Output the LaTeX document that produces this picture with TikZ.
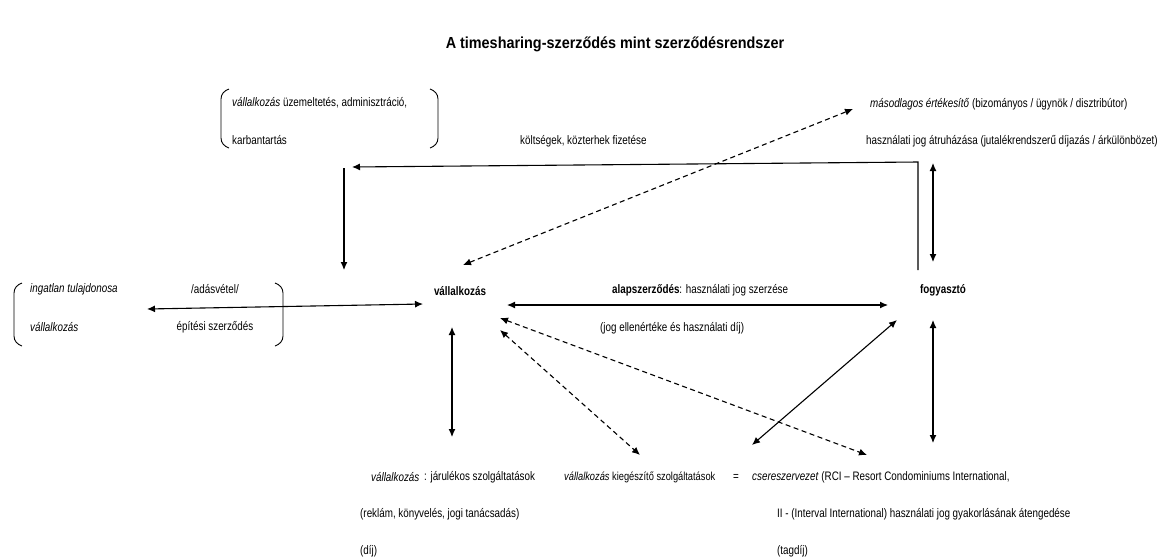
\documentclass[tikz,border=0pt]{standalone}
\usepackage{fontspec}
\setmainfont{Liberation Sans}[FakeStretch=0.8]
\newfontfamily\titlefont{Liberation Sans}[FakeStretch=0.9]
\usetikzlibrary{arrows.meta}
\begin{document}
\begin{tikzpicture}[x=1pt,y=-1pt,
  lbl/.style={inner sep=0pt, anchor=west, font=\fontsize{12.3}{14}\selectfont},
  boldlbl/.style={inner sep=0pt, anchor=center, font=\bfseries\fontsize{12.3}{14}\selectfont},
  con/.style={line width=1.1pt, -{Latex[length=8pt,width=7pt]}},
  dcon/.style={line width=1.1pt, {Latex[length=8pt,width=7pt]}-{Latex[length=8pt,width=7pt]}, dash pattern=on 5pt off 3.5pt},
  dbl/.style={line width=1.1pt, {Latex[length=8pt,width=7pt]}-{Latex[length=8pt,width=7pt]}},
  brk/.style={line width=0.9pt}]
\useasboundingbox (0,0) rectangle (1160,558);

% title
\node[inner sep=0pt, font=\titlefont\bfseries\fontsize{16}{18}\selectfont] (title) at (615,44) {A timesharing-szerződés mint szerződésrendszer};

% top left
\node[lbl] (uz1) at (232,103) {\textit{vállalkozás} üzemeltetés, adminisztráció,};
\node[lbl] (uz2) at (232,140) {karbantartás};
\draw[brk] (229,89) to[out=200,in=90] (221,99) -- (221,138) to[out=-90,in=160] (229,148);
\draw[brk] (430,89) to[out=-20,in=90] (438,99) -- (438,138) to[out=-90,in=20] (430,148);

\node[lbl] (kolt) at (520,141) {költségek, közterhek fizetése};

% top right
\node[lbl] (mas1) at (870,104) {\textit{másodlagos értékesítő} (bizományos / ügynök / disztribútor)};
\node[lbl] (mas2) at (866,141) {használati jog átruházása (jutalékrendszerű díjazás / árkülönbözet)};

% left
\node[lbl] (ing1) at (30,289) {\textit{ingatlan tulajdonosa}};
\node[lbl] (ing2) at (30,327) {\textit{vállalkozás}};
\node[lbl, anchor=center] (adas) at (215,289) {/adásvétel/};
\node[lbl, anchor=center] (epit) at (215,327) {építési szerződés};
\draw[brk] (22,283) to[out=200,in=90] (14,293) -- (14,336) to[out=-90,in=160] (22,346);
\draw[brk] (275,283) to[out=-20,in=90] (283,293) -- (283,336) to[out=-90,in=20] (275,346);

% centre
\node[boldlbl] (vall) at (460,291) {vállalkozás};
\node[lbl] (alap) at (612,290) {\textbf{alapszerződés}: használati jog szerzése};
\node[lbl] (ell) at (600,328) {(jog ellenértéke és használati díj)};
\node[boldlbl] (fogy) at (943,290) {fogyasztó};

% bottom
\node[lbl] (jv) at (371,477) {\textit{vállalkozás}};
\node[lbl] (jar) at (424,477) {: járulékos szolgáltatások};
\node[lbl] (rek) at (360,514) {(reklám, könyvelés, jogi tanácsadás)};
\node[lbl] (dij) at (360,551) {(díj)};
\node[lbl, font=\fontsize{11.6}{14}\selectfont] (kieg) at (564,477) {\textit{vállalkozás} kiegészítő szolgáltatások};
\node[lbl, anchor=center] (eq) at (736,477) {=};
\node[lbl] (cser) at (752,477) {\textit{csereszervezet} (RCI – Resort Condominiums International,};
\node[lbl] (ii) at (777,514) {II - (Interval International) használati jog gyakorlásának átengedése};
\node[lbl] (tag) at (777,551) {(tagdíj)};

% connector end points
\coordinate (fogyUp) at (918,270);
\coordinate (corner) at (918,162);
\coordinate (koltEnd) at (352,167);
\coordinate (vTopS) at (344,168);
\coordinate (vTopE) at (344,270);
\coordinate (dA) at (463,265);
\coordinate (dB) at (853,109);
\coordinate (frA) at (933,163);
\coordinate (frB) at (933,262);
\coordinate (lA) at (147,309);
\coordinate (lB) at (423,304);
\coordinate (aA) at (507,305);
\coordinate (aB) at (888,305);
\coordinate (vbA) at (452,327);
\coordinate (vbB) at (452,437);
\coordinate (d1A) at (500,318);
\coordinate (d1B) at (867,455);
\coordinate (d2A) at (500,330);
\coordinate (d2B) at (640,455);
\coordinate (sA) at (897,320);
\coordinate (sB) at (752,445);
\coordinate (fbA) at (933,320);
\coordinate (fbB) at (933,443);

\draw[con] (fogyUp) -- (corner) -- (koltEnd);
\draw[con] (vTopS) -- (vTopE);
\draw[dcon] (dA) -- (dB);
\draw[dbl] (frA) -- (frB);
\draw[dbl] (lA) -- (lB);
\draw[dbl] (aA) -- (aB);
\draw[dbl] (vbA) -- (vbB);
\draw[dcon] (d1A) -- (d1B);
\draw[dcon] (d2A) -- (d2B);
\draw[dbl] (sA) -- (sB);
\draw[dbl] (fbA) -- (fbB);
\end{tikzpicture}
\end{document}
